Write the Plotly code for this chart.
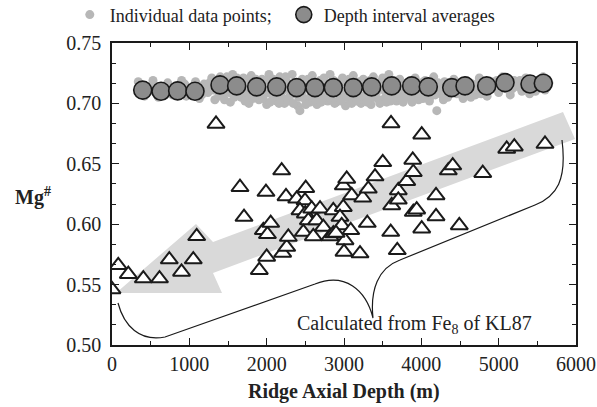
import plotly.graph_objects as go

# ---------------- data ----------------
# individual data points (grey)
ind_depth = [340, 420, 480, 530, 600, 660, 720, 780, 850, 900, 960, 1020, 1080, 1130, 1190, 1240, 1290,
             1330, 1360, 1400, 1430, 1470, 1500, 1530, 1560, 1600, 1630, 1670, 1700, 1740, 1770, 1800, 1840, 1870, 1900,
             1940, 1970, 2000, 2030, 2070, 2100, 2130, 2170, 2200, 2230, 2260, 2300, 2330, 2360, 2400, 2430, 2460, 2490,
             2520, 2560, 2590, 2620, 2650, 2690, 2720, 2750, 2790, 2820, 2850, 2880, 2920, 2950, 2980, 3020, 3050, 3080,
             3120, 3150, 3180, 3220, 3250, 3280, 3320, 3350, 3380, 3420, 3450, 3480, 3520, 3550, 3580, 3620, 3650, 3680,
             3720, 3750, 3780, 3820, 3850, 3880, 3920, 3950, 3980, 4020, 4050, 4090, 4120, 4160, 4200, 4230, 4270, 4300,
             4340, 4380, 4420, 4460, 4500, 4540, 4580, 4620, 4660, 4700, 4750, 4800, 4850, 4900, 4950, 5000, 5050, 5100,
             5150, 5200, 5250, 5300, 5350, 5400, 5450, 5500, 5550, 5600, 5650,
             1450, 1650, 1850, 2050, 2250, 2450, 2550, 2700, 2900, 3100, 3300, 3500, 3700, 3900, 2150, 2600, 3000, 3400, 1750,
             760, 820, 880, 940, 1000, 1060, 1110, 1160, 1210, 1260,
             1310, 1380, 1415, 1455, 1485, 1515, 1545, 1580, 1615, 1645, 1685, 1720, 1760, 1790, 1820, 1860, 1890, 1925,
             1955, 1990, 2015, 2045, 2085, 2115, 2160, 2190, 2215, 2245, 2280, 2315, 2345, 2380, 2415, 2475, 2505, 2535,
             2575, 2610, 2635, 2670, 2705, 2740, 2770, 2805, 2835, 2865, 2900, 2935, 2965, 3000, 3035, 3065, 3100, 3135,
             3165, 3200, 3235, 3265, 3300, 3335, 3365, 3400, 3435, 3465, 3500, 3535, 3565, 3600, 3635, 3665, 3700, 3735,
             3765, 3800, 3835, 3865, 3900, 3935, 3965, 4000, 4035, 4070, 4105, 4140, 4180, 4215, 4250, 4285, 4320, 4360,
             4400, 4440, 4480, 4520, 4560, 4600, 4640, 4680, 4725, 4775, 4825, 4875, 4925, 4975, 5025, 5075, 5125, 5175,
             5225, 5275, 5325, 5375, 5425, 5475, 5525, 5575, 5625]
ind_mg = [0.718, 0.706, 0.714, 0.719, 0.705, 0.713, 0.717, 0.707, 0.715, 0.719, 0.706, 0.712, 0.718, 0.704, 0.716, 0.709, 0.721,
          0.703, 0.715, 0.722, 0.708, 0.712, 0.719, 0.701, 0.724, 0.710, 0.716, 0.705, 0.721, 0.713, 0.700, 0.723, 0.709, 0.717, 0.703,
          0.720, 0.711, 0.699, 0.724, 0.707, 0.715, 0.702, 0.722, 0.710, 0.700, 0.718, 0.706, 0.724, 0.712, 0.698, 0.694, 0.720, 0.704,
          0.716, 0.701, 0.723, 0.709, 0.699, 0.719, 0.706, 0.713, 0.702, 0.724, 0.710, 0.700, 0.717, 0.705, 0.721, 0.698, 0.712, 0.703,
          0.723, 0.708, 0.716, 0.700, 0.720, 0.706, 0.713, 0.699, 0.722, 0.709, 0.703, 0.718, 0.711, 0.701, 0.724, 0.707, 0.715, 0.702,
          0.720, 0.709, 0.704, 0.717, 0.711, 0.701, 0.721, 0.708, 0.714, 0.704, 0.719, 0.710, 0.706, 0.722, 0.694, 0.713, 0.707, 0.718,
          0.705, 0.712, 0.720, 0.708, 0.715, 0.704, 0.719, 0.710, 0.716, 0.707, 0.721, 0.711, 0.706, 0.718, 0.713, 0.709, 0.722, 0.712,
          0.707, 0.719, 0.714, 0.710, 0.721, 0.708, 0.716, 0.712, 0.720, 0.711, 0.717,
          0.714, 0.718, 0.714, 0.716, 0.712, 0.709, 0.713, 0.716, 0.713, 0.715, 0.717, 0.714, 0.712, 0.716, 0.705, 0.705, 0.708, 0.705, 0.707,
          0.711, 0.709, 0.713, 0.716, 0.708, 0.713, 0.710, 0.707, 0.713, 0.717,
          0.711, 0.706, 0.717, 0.703, 0.722, 0.709, 0.714, 0.705, 0.721, 0.708, 0.713, 0.702, 0.718, 0.710, 0.704, 0.720, 0.707, 0.714,
          0.704, 0.719, 0.709, 0.701, 0.720, 0.710, 0.700, 0.716, 0.704, 0.722, 0.702, 0.714, 0.700, 0.717, 0.705, 0.711, 0.699, 0.720,
          0.707, 0.716, 0.703, 0.709, 0.701, 0.721, 0.707, 0.716, 0.703, 0.719, 0.701, 0.711, 0.702, 0.718, 0.705, 0.720, 0.700, 0.712,
          0.702, 0.718, 0.706, 0.714, 0.701, 0.719, 0.706, 0.716, 0.712, 0.700, 0.721, 0.705, 0.716, 0.702, 0.719, 0.710, 0.705, 0.716,
          0.701, 0.712, 0.705, 0.719, 0.705, 0.715, 0.703, 0.717, 0.709, 0.715, 0.702, 0.713, 0.707, 0.717, 0.711, 0.703, 0.715, 0.709,
          0.715, 0.713, 0.710, 0.718, 0.710, 0.714, 0.705, 0.712, 0.716, 0.708, 0.715, 0.712, 0.716, 0.719, 0.714, 0.716, 0.716, 0.712,
          0.716, 0.719, 0.713, 0.716, 0.719, 0.710, 0.715, 0.722, 0.714]

# depth interval averages
avg_depth = [397, 634, 849, 1073, 1397, 1612, 1871, 2130, 2388, 2625, 2862, 3120, 3358, 3617, 3875, 4090, 4393, 4565, 4845,
             5082, 5405, 5577]
avg_mg = [0.711, 0.710, 0.7104, 0.710, 0.7153, 0.7145, 0.7137, 0.7137, 0.7131, 0.7131, 0.7131, 0.7131, 0.7137, 0.7145, 0.7145,
          0.7137, 0.7131, 0.7145, 0.7145, 0.7172, 0.716, 0.7167]

# calculated from Fe8 of KL87 (triangles)
kl_depth = [0, 81, 211, 405, 614, 741, 1051, 899, 1095, 1345,
            1655, 1707, 1905, 2000, 1957, 2010, 2052, 1991, 2194, 2250, 2207, 2259, 2280, 2388, 2505, 2496, 2431, 2500,
            2539, 2582, 2647, 2690, 2474, 2603, 2733, 2819, 2862, 2862, 2991, 3035, 2991, 2948, 2970, 3013, 3000, 3100,
            3087, 2897, 3207, 3242, 3301, 3314, 3401, 3501, 3608, 3617, 3604, 3689, 3702, 3702, 3811, 3889, 3896, 3896,
            3940, 4005, 4005, 4190, 4190, 4349, 4406, 4491, 4794, 5104, 5202, 5599]
kl_mg = [0.546, 0.566, 0.5586, 0.555, 0.555, 0.5707, 0.5707, 0.5605, 0.590, 0.683,
         0.6306, 0.6059, 0.5619, 0.5729, 0.5949, 0.5916, 0.6009, 0.6266, 0.6444, 0.623, 0.5762, 0.5811, 0.5894, 0.621,
         0.6298, 0.6196, 0.6114, 0.6087, 0.6031, 0.6128, 0.6031, 0.6128, 0.5935, 0.5899, 0.5976, 0.5899, 0.6114, 0.5922,
         0.632, 0.6375, 0.6141, 0.6059, 0.599, 0.5866, 0.577, 0.6238, 0.5949, 0.5927, 0.5757, 0.6219, 0.6009, 0.6293,
         0.6394, 0.6512, 0.6834, 0.6155, 0.5935, 0.5784, 0.6279, 0.6202, 0.6356, 0.6532, 0.643, 0.61, 0.612, 0.6741,
         0.5963, 0.6238, 0.6064, 0.6444, 0.6485, 0.599, 0.6422, 0.6623, 0.6642, 0.6664]

x_range = [0, 6000]
y_range = [0.50, 0.75]

# ---------------- layout geometry ----------------
W, H = 597, 407
ML, MR, MT, MB = 112, 21, 43, 62
PW, PH = W - ML - MR, H - MT - MB


def to_data(px, py):
    d = x_range[0] + (px - ML) / PW * (x_range[1] - x_range[0])
    v = y_range[0] + (H - MB - py) / PH * (y_range[1] - y_range[0])
    return d, v


def path_from(cmds):
    out = []
    for c in cmds:
        op, pts = c[0], c[1:]
        coords = []
        for (px, py) in pts:
            d, v = to_data(px, py)
            coords.append(f"{d:.2f},{v:.5f}")
        out.append(op + " " + " ".join(coords))
    return " ".join(out)


arrow_pts = [(116, 293), (196, 224), (213, 242), (563, 112), (575, 139), (213, 273), (222, 293)]
arrow_path = path_from([("M", arrow_pts[0])] + [("L", p) for p in arrow_pts[1:]]) + " Z"

brace_path = path_from([
    ("M", (118, 303)),
    ("C", (124, 326), (140, 342), (165, 337)),
    ("L", (315, 284)),
    ("C", (345, 272), (366, 290), (373, 318)),
    ("C", (370, 290), (378, 268), (400, 260)),
    ("L", (535, 205)),
    ("C", (557, 196), (567, 180), (562, 140)),
])

FONT = "Liberation Serif"

fig = go.Figure()
fig.add_trace(go.Scatter(x=ind_depth, y=ind_mg, mode="markers", name="Individual data points;",
                         marker=dict(size=9, color="#b7b7b7", line=dict(width=0))))
fig.add_trace(go.Scatter(x=avg_depth, y=avg_mg, mode="markers", name="Depth interval averages",
                         marker=dict(size=18, color="#8c8c8c", line=dict(width=1.6, color="#1a1a1a"))))
fig.add_trace(go.Scatter(x=kl_depth, y=kl_mg, mode="markers", name="KL87", showlegend=False,
                         marker=dict(symbol="triangle-up", size=15, color="white",
                                     line=dict(width=2, color="#1a1a1a"))))

fig.update_layout(
    width=W, height=H,
    margin=dict(l=ML, r=MR, t=MT, b=MB, autoexpand=False),
    paper_bgcolor="white", plot_bgcolor="white",
    font=dict(family=FONT, size=20, color="#222"),
    showlegend=True,
    legend=dict(orientation="h", x=-0.091, y=1.093, xanchor="left", yanchor="middle",
                font=dict(family=FONT, size=18, color="#222"), bgcolor="rgba(0,0,0,0)",
                itemsizing="trace", entrywidth=169, entrywidthmode="pixels"),
    shapes=[
        dict(type="path", path=arrow_path, xref="x", yref="y", fillcolor="#d9d9d9",
             line=dict(width=0), layer="below"),
        dict(type="path", path=brace_path, xref="x", yref="y", line=dict(width=1.2, color="#1a1a1a"),
             layer="above"),
    ],
    annotations=[
        dict(text="Calculated from Fe<sub>8</sub> of KL87", x=to_data(414, 324)[0], y=to_data(414, 324)[1],
             xref="x", yref="y", showarrow=False, font=dict(family=FONT, size=20, color="#222"),
             xanchor="center", yanchor="middle"),
        dict(text="<b>Mg<sup>#</sup></b>", x=(33 - ML) / PW, y=(H - MB - 197) / PH, xref="paper", yref="paper",
             showarrow=False, font=dict(family=FONT, size=20, color="#222"), xanchor="center", yanchor="middle"),
        dict(text="<b>Ridge Axial Depth (m)</b>", x=(344 - ML) / PW, y=(H - MB - 391) / PH, xref="paper",
             yref="paper", showarrow=False, font=dict(family=FONT, size=20, color="#222"),
             xanchor="center", yanchor="middle"),
    ],
)

fig.update_xaxes(range=x_range, dtick=1000, tick0=0, ticks="inside", ticklen=7, tickwidth=1.3,
                 tickcolor="#1a1a1a", showline=True, linecolor="#1a1a1a", linewidth=1.6, mirror="ticks",
                 showgrid=False, zeroline=False, ticklabelstandoff=0,
                 tickfont=dict(family=FONT, size=20, color="#222"),
                 minor=dict(dtick=500, ticks="inside", ticklen=4, tickwidth=1.2, tickcolor="#1a1a1a", showgrid=False))
fig.update_yaxes(range=y_range, dtick=0.05, tick0=0.5, tickformat=".2f", ticks="inside", ticklen=7, tickwidth=1.3,
                 tickcolor="#1a1a1a", showline=True, linecolor="#1a1a1a", linewidth=1.6, mirror="ticks",
                 showgrid=False, zeroline=False, ticklabelstandoff=5,
                 tickfont=dict(family=FONT, size=20, color="#222"),
                 minor=dict(dtick=0.05 / 3, ticks="inside", ticklen=4, tickwidth=1.2, tickcolor="#1a1a1a",
                            showgrid=False))

fig.write_html("out.html")
